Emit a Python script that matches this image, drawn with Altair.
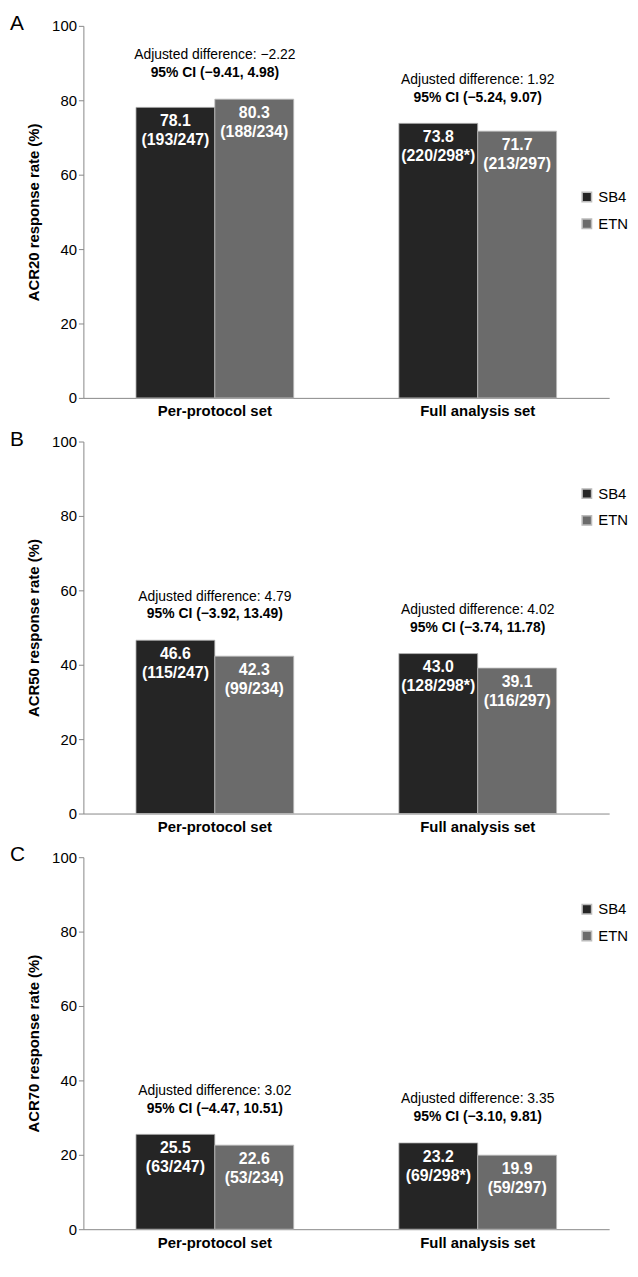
import altair as alt
import pandas as pd

sets = ["Per-protocol set", "Full analysis set"]
drugs = ["SB4", "ETN"]
panels = ["A", "B", "C"]
ytitles = ["ACR20 response rate (%)", "ACR50 response rate (%)", "ACR70 response rate (%)"]
values = [[78.1, 80.3, 73.8, 71.7], [46.6, 42.3, 43.0, 39.1], [25.5, 22.6, 23.2, 19.9]]
counts = [["(193/247)", "(188/234)", "(220/298*)", "(213/297)"],
          ["(115/247)", "(99/234)", "(128/298*)", "(116/297)"],
          ["(63/247)", "(53/234)", "(69/298*)", "(59/297)"]]
adjdiff = [["Adjusted difference: \u22122.22", "Adjusted difference: 1.92"],
           ["Adjusted difference: 4.79", "Adjusted difference: 4.02"],
           ["Adjusted difference: 3.02", "Adjusted difference: 3.35"]]
cis = [["95% CI (\u22129.41, 4.98)", "95% CI (\u22125.24, 9.07)"],
       ["95% CI (\u22123.92, 13.49)", "95% CI (\u22123.74, 11.78)"],
       ["95% CI (\u22124.47, 10.51)", "95% CI (\u22123.10, 9.81)"]]
legend_pos = [(500, 165), (500, 45), (500, 45)]

FONT = "Liberation Sans"
charts = []
for p in range(3):
    rows = []
    for i, s in enumerate(sets):
        for j, d in enumerate(drugs):
            k = i * 2 + j
            rows.append({"set": s, "drug": d, "value": values[p][k],
                         "lbl": [f"{values[p][k]:.1f}", counts[p][k]]})
    df = pd.DataFrame(rows)
    ann = pd.DataFrame({"set": sets,
                        "top": [max(values[p][0:2]), max(values[p][2:4])],
                        "adj": adjdiff[p], "ci": cis[p]})
    x = alt.X("set:N", sort=sets, title=None,
              scale=alt.Scale(paddingInner=0.4, paddingOuter=0.2),
              axis=alt.Axis(labelFont=FONT, labelFontSize=15, labelFontWeight="bold",
                            labelColor="black", ticks=False, domainColor="#888", labelAngle=0,
                            labelPadding=6))
    y = alt.Y("value:Q", title=ytitles[p],
              scale=alt.Scale(domain=[0, 100]),
              axis=alt.Axis(values=[0, 20, 40, 60, 80, 100], grid=False, labelFont=FONT,
                            labelFontSize=15, labelColor="black", titleFont=FONT,
                            titleFontSize=15, titleFontWeight="bold", titleColor="black",
                            domainColor="#888", tickColor="#888", titlePadding=10))
    bars = alt.Chart(df).mark_bar(stroke="#bbbbbb", strokeWidth=0.8).encode(
        x=x, y=y, xOffset=alt.XOffset("drug:N", sort=drugs),
        color=alt.Color("drug:N", sort=drugs,
                        scale=alt.Scale(domain=drugs, range=["#252525", "#6b6b6b"]),
                        legend=alt.Legend(title=None, orient="none",
                                          legendX=legend_pos[p][0], legendY=legend_pos[p][1],
                                          symbolType="square", symbolSize=90,
                                          labelFont=FONT, labelFontSize=15,
                                          labelColor="black", rowPadding=10)))
    labels = alt.Chart(df).mark_text(color="white", fontWeight="bold", font=FONT,
                                     fontSize=16, baseline="top", dy=6, lineHeight=19).encode(
        x=alt.X("set:N", sort=sets), y="value:Q",
        xOffset=alt.XOffset("drug:N", sort=drugs), text="lbl")
    t1 = alt.Chart(ann).mark_text(font=FONT, fontSize=14, dy=-44, color="black").encode(
        x=alt.X("set:N", sort=sets), y="top:Q", text="adj:N")
    t2 = alt.Chart(ann).mark_text(font=FONT, fontSize=14, fontWeight="bold", dy=-26,
                                  color="black").encode(
        x=alt.X("set:N", sort=sets), y="top:Q", text="ci:N")
    letter = alt.Chart(pd.DataFrame({"t": [panels[p]]})).mark_text(
        font=FONT, fontSize=21, color="black", align="left", baseline="middle").encode(
        x=alt.value(-74), y=alt.value(-2), text="t:N")
    c = alt.layer(bars, labels, t1, t2, letter).properties(width=530, height=375)
    charts.append(c)

chart = alt.vconcat(*charts, spacing=10).resolve_scale(color="independent").configure_view(
    strokeWidth=0, stroke="transparent").properties(
    background="white", padding={"left": 2, "right": 2, "top": 0, "bottom": 2})
chart.save("out.html", embed_options={"renderer": "svg", "actions": False})
